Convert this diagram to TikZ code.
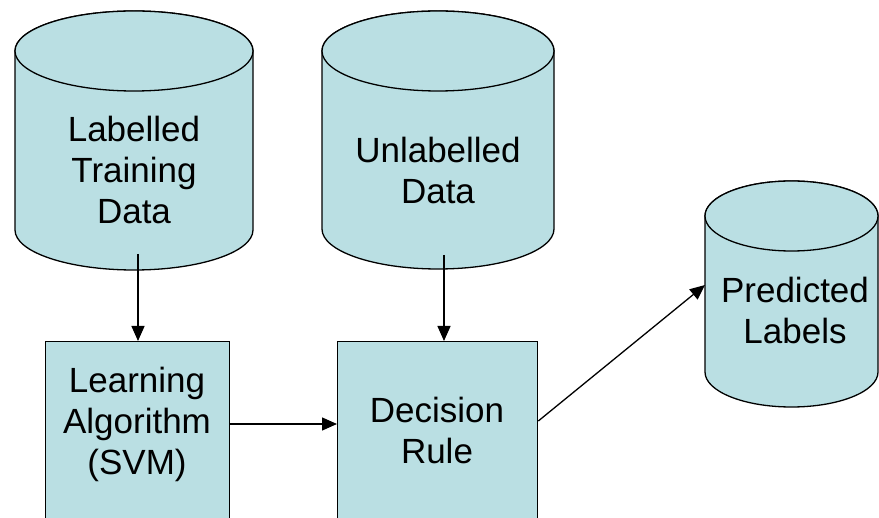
\documentclass[tikz,border=0pt]{standalone}
\usepackage{fontspec}
\setmainfont{Liberation Sans}
\usetikzlibrary{arrows.meta}
\definecolor{cylfill}{RGB}{186,223,227}
\tikzset{
  shapeline/.style={draw=black, line width=1.3pt, fill=cylfill},
  boxnode/.style={shapeline, rectangle, anchor=north west, inner sep=0pt},
  txt/.style={align=center, font=\fontsize{35}{41}\selectfont, inner sep=0pt},
  flow/.style={line width=1.3pt, -{Triangle[length=15pt,width=13pt]}}
}
\begin{document}
\begin{tikzpicture}[x=1pt,y=-1pt]
\useasboundingbox (0,0) rectangle (879,518);
% cylinder 1
\filldraw[shapeline] (15,51) -- (15,230) arc[start angle=180,end angle=0,x radius=119,y radius=40]
  -- (253,51) arc[start angle=0,end angle=-180,x radius=119,y radius=40] -- cycle;
\draw[shapeline] (134,51) ellipse[x radius=119,y radius=40];
% cylinder 2
\filldraw[shapeline] (322,51) -- (322,229) arc[start angle=180,end angle=0,x radius=116,y radius=40]
  -- (554,51) arc[start angle=0,end angle=-180,x radius=116,y radius=40] -- cycle;
\draw[shapeline] (438,51) ellipse[x radius=116,y radius=40];
% cylinder 3
\filldraw[shapeline] (705,216) -- (705,372) arc[start angle=180,end angle=0,x radius=86.5,y radius=35]
  -- (878,216) arc[start angle=0,end angle=-180,x radius=86.5,y radius=35] -- cycle;
\draw[shapeline] (791.5,216) ellipse[x radius=86.5,y radius=35];
% text of cylinders
\node[txt] (c1) at (134,170) {Labelled\\Training\\Data};
\node[txt] (c2) at (438,170) {Unlabelled\\Data};
\node[txt] (c3) at (795,310) {Predicted\\Labels};
% boxes
\node[boxnode, minimum width=184, minimum height=220] (b1) at (45,341) {};
\node[boxnode, minimum width=200, minimum height=220] (b2) at (337,341) {};
\node[txt] (t1) at (137,424) {Learning\\Algorithm\\(SVM)};
\node[txt] (t2) at (437,430) {Decision\\Rule};
% connector ends
\coordinate (c1out) at (138,254);
\coordinate (c2out) at (444,255);
\coordinate (c3in) at (705,285);
% arrows
\draw[flow] (c1out) -- (c1out |- b1.north);
\draw[flow] (c2out) -- (c2out |- b2.north);
\draw[flow] (t1 -| b1.east) -- (t1 -| b2.west);
\draw[flow] (b2.east |- 0,421) -- (c3in);
\end{tikzpicture}
\end{document}
